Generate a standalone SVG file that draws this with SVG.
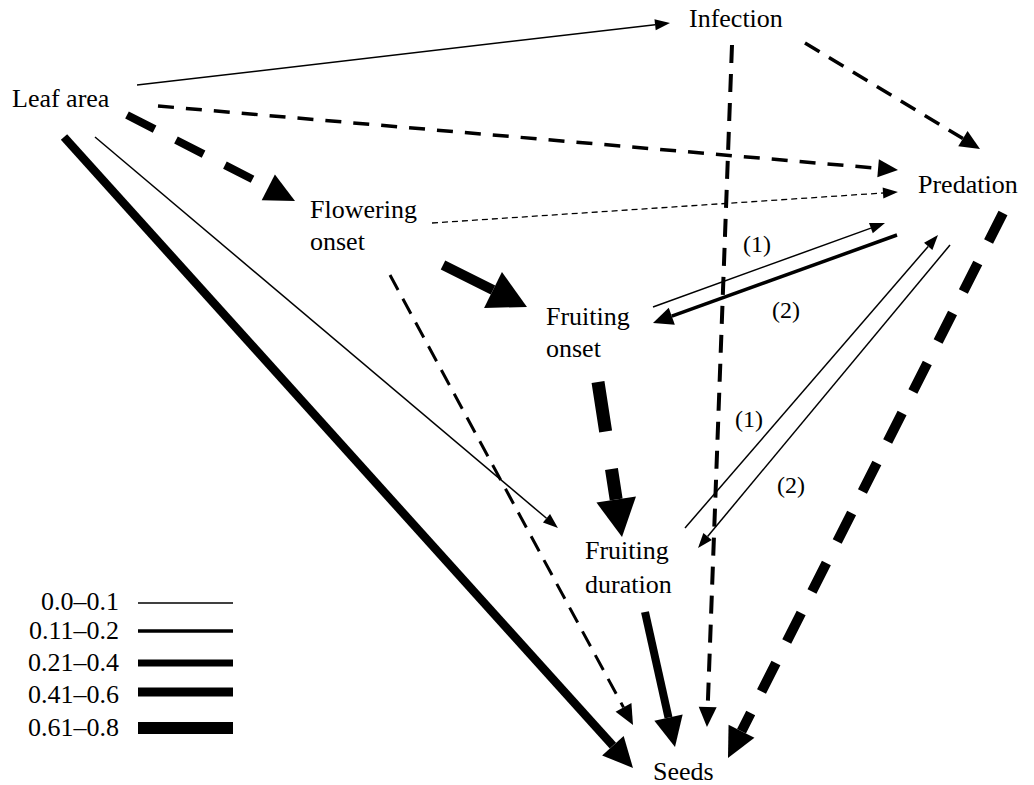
<svg xmlns="http://www.w3.org/2000/svg" width="1034" height="785" viewBox="0 0 1034 785" font-family="Liberation Serif, Times New Roman, serif">
<style>
text{font-size:26px;fill:#000}
.lbl{font-size:24px}
.c{fill:none;stroke:#000;stroke-linecap:butt}
</style>
<defs>
<marker id="a1" markerUnits="userSpaceOnUse" markerWidth="15" markerHeight="11" refX="0" refY="5.5" orient="auto" overflow="visible"><path d="M0,0 L15,5.5 L0,11 z"/></marker>
<marker id="a2" markerUnits="userSpaceOnUse" markerWidth="20" markerHeight="18" refX="0" refY="9" orient="auto" overflow="visible"><path d="M0,0 L20,9 L0,18 z"/></marker>
<marker id="a3" markerUnits="userSpaceOnUse" markerWidth="30" markerHeight="29" refX="0" refY="14.5" orient="auto" overflow="visible"><path d="M0,0 L30,14.5 L0,29 z"/></marker>
<marker id="a4" markerUnits="userSpaceOnUse" markerWidth="38" markerHeight="40" refX="0" refY="20" orient="auto" overflow="visible"><path d="M0,0 L38,20 L0,40 z"/></marker>
</defs>
<rect width="1034" height="785" fill="#fff"/>
<g id="connectors">
<path class="c" d="M137,85 L655.1,24.7" stroke-width="1.5" marker-end="url(#a1)"/>
<path class="c" d="M158,106 L878.1,168.3" stroke-width="3.5" stroke-dasharray="16 12" marker-end="url(#a2)"/>
<path class="c" d="M127,115 L268.3,187.3" stroke-width="8" stroke-dasharray="31 24" marker-end="url(#a3)"/>
<path class="c" d="M64,137 L612.9,745.7" stroke-width="8.5" marker-end="url(#a3)"/>
<path class="c" d="M95,137 L546.5,518.3" stroke-width="1.5" marker-end="url(#a1)"/>
<path class="c" d="M432,223 L883,193" stroke-width="1.3" stroke-dasharray="6 4" marker-end="url(#a1)"/>
<path class="c" d="M443,265 L493,290" stroke-width="10" marker-end="url(#a4)"/>
<path class="c" d="M390,275 L623.5,707.4" stroke-width="3" stroke-dasharray="17 10" marker-end="url(#a2)"/>
<path class="c" d="M598,382 L616.2,499.5" stroke-width="13" stroke-dasharray="50 38" marker-end="url(#a4)"/>
<path class="c" d="M645,612 L668.5,717.7" stroke-width="8" marker-end="url(#a3)"/>
<path class="c" d="M732,45 L707.7,707" stroke-width="4" stroke-dasharray="18 11" marker-end="url(#a2)"/>
<path class="c" d="M805,43 L962.9,138.6" stroke-width="3.5" stroke-dasharray="17 11" marker-end="url(#a2)"/>
<path class="c" d="M1003,213 L741.5,731.2" stroke-width="10" stroke-dasharray="32 24" marker-end="url(#a3)"/>
<path class="c" d="M653,307 L870.9,228.1" stroke-width="1.5" marker-end="url(#a1)"/>
<path class="c" d="M897,235 L671.8,316.2" stroke-width="3.5" marker-end="url(#a2)"/>
<path class="c" d="M685,528 L928.2,246.4" stroke-width="1.5" marker-end="url(#a1)"/>
<path class="c" d="M950,245 L707.6,536.5" stroke-width="1.5" marker-end="url(#a1)"/>
<text class="lbl" x="743" y="252">(1)</text>
<text class="lbl" x="772" y="318">(2)</text>
<text class="lbl" x="735" y="427">(1)</text>
<text class="lbl" x="777" y="493">(2)</text>
</g>
<g id="leaf-area"><text x="12" y="107">Leaf area</text></g>
<g id="infection"><text x="689" y="27">Infection</text></g>
<g id="predation"><text x="918" y="193">Predation</text></g>
<g id="flowering-onset"><text x="310" y="218">Flowering</text><text x="310" y="250">onset</text></g>
<g id="fruiting-onset"><text x="546" y="325">Fruiting</text><text x="546" y="357">onset</text></g>
<g id="fruiting-duration"><text x="585" y="559">Fruiting</text><text x="585" y="593">duration</text></g>
<g id="seeds"><text x="653" y="780">Seeds</text></g>
<g id="legend">
<text x="119" y="610" text-anchor="end">0.0–0.1</text>
<text x="119" y="639" text-anchor="end">0.11–0.2</text>
<text x="119" y="671" text-anchor="end">0.21–0.4</text>
<text x="119" y="703" text-anchor="end">0.41–0.6</text>
<text x="119" y="736" text-anchor="end">0.61–0.8</text>
<path class="c" d="M138,603 H233" stroke-width="1.5"/>
<path class="c" d="M138,631 H233" stroke-width="3.5"/>
<path class="c" d="M138,663 H233" stroke-width="7"/>
<path class="c" d="M138,692 H233" stroke-width="9"/>
<path class="c" d="M138,728 H233" stroke-width="12"/>
</g>
</svg>
